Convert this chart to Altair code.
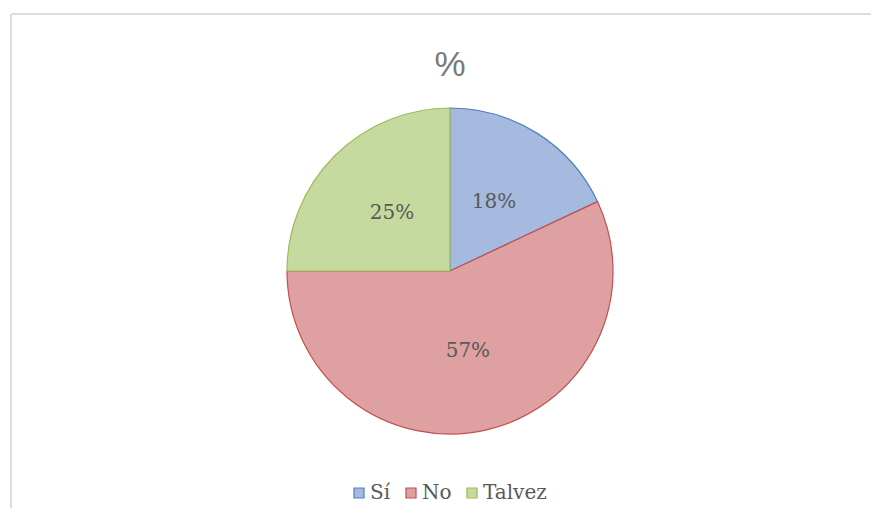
import altair as alt
import pandas as pd

categories = ["Sí", "No", "Talvez"]
values = [18, 57, 25]
labels = ["18%", "57%", "25%"]
fill_colors = ["#a6b9de", "#dfa0a2", "#c6d99e"]
stroke_colors = ["#4f81bd", "#c0504d", "#9bbb59"]

df = pd.DataFrame({"cat": categories, "val": values, "lab": labels, "idx": list(range(len(categories)))})

W, H = 863, 500
CX, CY = 442, 263
R = 163

legend_cfg = dict(title=None, orient="none", direction="horizontal",
                  legendX=341, legendY=475,
                  symbolType="square", symbolSize=100, symbolStrokeWidth=1.2,
                  labelFont="DejaVu Serif", labelFontSize=20,
                  labelColor="#595959", labelOffset=1, columnPadding=10)

base = alt.Chart(df)

pie = base.mark_arc(outerRadius=R, strokeWidth=1.2).encode(
    theta=alt.Theta("val:Q", stack=True),
    order=alt.Order("idx:Q"),
    fill=alt.Fill("cat:N", scale=alt.Scale(domain=categories, range=fill_colors),
                  legend=alt.Legend(**legend_cfg)),
    stroke=alt.Stroke("cat:N", scale=alt.Scale(domain=categories, range=stroke_colors),
                      legend=alt.Legend(**legend_cfg)),
    x=alt.value(CX),
    y=alt.value(CY),
)

text = base.mark_text(radius=82, font="DejaVu Serif", fontSize=20, color="#595959").encode(
    theta=alt.Theta("val:Q", stack=True),
    order=alt.Order("idx:Q"),
    text="lab:N",
    x=alt.value(CX),
    y=alt.value(CY),
)

title = alt.Chart(pd.DataFrame({"t": ["%"]})).mark_text(
    font="Liberation Sans", fontSize=35, color="#7a7a7a", baseline="middle", align="center"
).encode(text="t:N", x=alt.value(CX), y=alt.value(57))

border_left = alt.Chart(pd.DataFrame({"a": [0]})).mark_rule(color="#dcdcdc", strokeWidth=2).encode(
    x=alt.value(3), y=alt.value(6), y2=alt.value(H))
border_top = alt.Chart(pd.DataFrame({"a": [0]})).mark_rule(color="#dcdcdc", strokeWidth=2).encode(
    x=alt.value(3), x2=alt.value(W), y=alt.value(6))

chart = alt.layer(border_left, border_top, pie, text, title).properties(
    width=W, height=H, padding=0, autosize=alt.AutoSizeParams(type="none")
).configure_view(stroke=None).resolve_scale(theta="shared")

chart.save("out.html", embed_options={"renderer": "svg", "actions": False})
